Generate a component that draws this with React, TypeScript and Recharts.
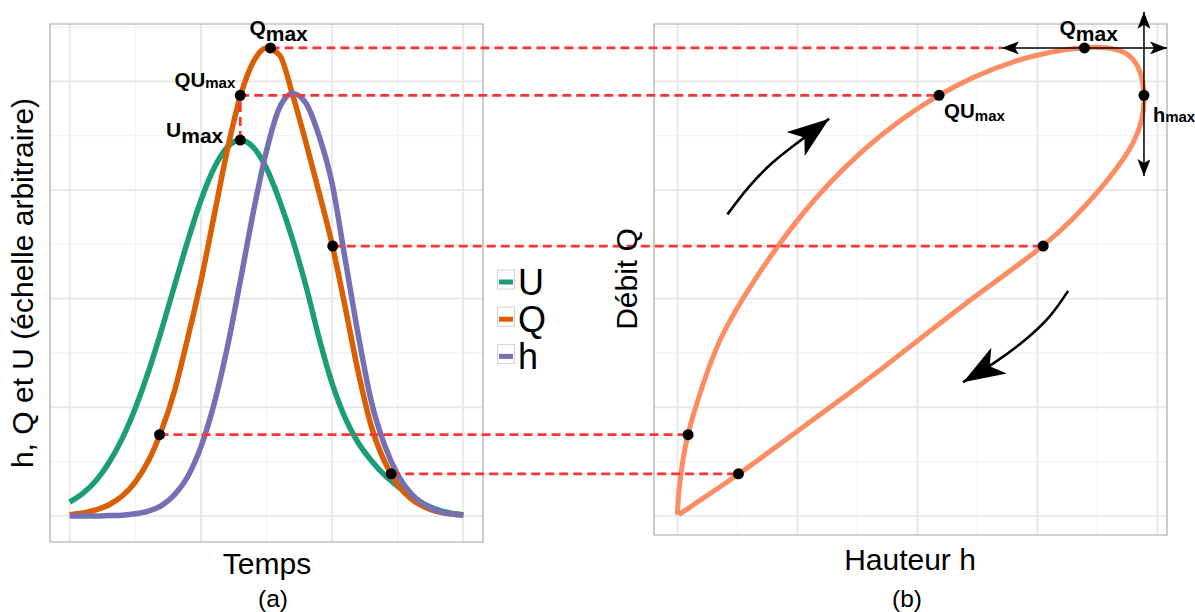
import { ComposedChart, Line, XAxis, YAxis } from 'recharts'

const FONT = '"Liberation Sans", Arial, Helvetica, sans-serif'
const W = 1195
const HT = 612

// hydrograph (a): time steps and the three curves
const TIME = [0, 1, 2, 3, 4, 5, 6, 7, 8, 9, 10, 11, 12, 13, 14, 15, 16, 17, 18, 19, 20, 21, 22, 23, 24, 25, 26, 27, 28, 29, 30]
const U_VALUES = [0.032, 0.052, 0.081, 0.123, 0.178, 0.248, 0.332, 0.428, 0.531, 0.633, 0.726, 0.8, 0.848, 0.865, 0.848, 0.8, 0.725, 0.635, 0.53, 0.41, 0.305, 0.225, 0.168, 0.127, 0.094, 0.068, 0.046, 0.028, 0.015, 0.007, 0.003]
const Q_VALUES = [0.003, 0.007, 0.014, 0.026, 0.046, 0.078, 0.127, 0.197, 0.289, 0.41, 0.54, 0.69, 0.84, 0.965, 1.045, 1.077, 1.06, 0.968, 0.86, 0.745, 0.625, 0.48, 0.33, 0.205, 0.125, 0.072, 0.04, 0.021, 0.01, 0.005, 0.002]
const H_VALUES = [0, 0, 0, 0.001, 0.002, 0.005, 0.011, 0.024, 0.049, 0.091, 0.159, 0.257, 0.386, 0.54, 0.7, 0.84, 0.94, 0.972, 0.95, 0.875, 0.765, 0.59, 0.415, 0.262, 0.163, 0.095, 0.052, 0.027, 0.012, 0.005, 0.002]

const SERIES = [
  { key: 'U', color: '#1B9E77' },
  { key: 'Q', color: '#D95F02' },
  { key: 'h', color: '#7570B3' },
]
const LOOP_COLOR = '#FC8D62'

// marked points, panel (a) in time units, panel (b) in height units
const DOTS_A = [
  { t: 15.3, y: 1.077 },
  { t: 13, y: 0.968 },
  { t: 13, y: 0.865 },
  { t: 6.85, y: 0.187 },
  { t: 20.05, y: 0.621 },
  { t: 24.5, y: 0.097 },
]
const DOTS_B = [
  { h: 0.848, y: 1.077 },
  { h: 0.545, y: 0.968 },
  { h: 0.972, y: 0.968 },
  { h: 0.022, y: 0.187 },
  { h: 0.762, y: 0.621 },
  { h: 0.127, y: 0.097 },
]
const LABELS_A = [
  { t: 15.3, y: 1.077, main: 'Q', sub: 'max' },
  { t: 13, y: 0.968, main: 'QU', sub: 'max' },
  { t: 13, y: 0.865, main: 'U', sub: 'max' },
]
const LABELS_B = [
  { h: 0.848, y: 1.077, main: 'Q', sub: 'max' },
  { h: 0.545, y: 0.968, main: 'QU', sub: 'max' },
  { h: 0.972, y: 0.968, main: 'h', sub: 'max' },
]

// annotation arrows in panel (b) units
const ARROW_UP_H = [0.104, 0.147, 0.197, 0.249, 0.316]
const ARROW_UP_Q = [0.694, 0.755, 0.812, 0.858, 0.914]
const ARROW_DOWN_H = [0.814, 0.776, 0.724, 0.662, 0.595]
const ARROW_DOWN_Q = [0.518, 0.46, 0.405, 0.354, 0.308]
const QMAX_ARROW_H = [0.676, 1.02]
const HMAX_ARROW_Q = [0.782, 1.16]

// grid ticks
const T_MAJOR = [0, 10, 20, 30]
const T_MINOR = [5, 15, 25]
const H_MAJOR = [0, 0.25, 0.5, 0.75, 1]
const H_MINOR = [0.125, 0.375, 0.625, 0.875]
const Q_MAJOR = [0, 0.25, 0.5, 0.75, 1]
const Q_MINOR = [0.125, 0.375, 0.625, 0.875, 1.125]

// layout: panel ranges and where they sit on the page
const T_RANGE = [-1.5, 31.5]
const H_RANGE = [-0.049, 1.02]
const Q_TOP = 1.132
const PANEL_A = { left: 50, right: 483, bottom: 542 }
const PANEL_B = { left: 654, right: 1167, bottom: 535 }
const Y_TOP = 24
const Y_ZERO = 516

function xDomain(lo: number, hi: number, pLo: number, pHi: number) {
  const k = (hi - lo) / (pHi - pLo)
  return [lo - pLo * k, lo + (W - pLo) * k]
}
const T_DOMAIN = xDomain(T_RANGE[0], T_RANGE[1], PANEL_A.left, PANEL_A.right)
const H_DOMAIN = xDomain(H_RANGE[0], H_RANGE[1], PANEL_B.left, PANEL_B.right)
const Q_PER_PX = Q_TOP / (Y_ZERO - Y_TOP)
const Q_DOMAIN = [-(HT - Y_ZERO) * Q_PER_PX, Y_ZERO * Q_PER_PX]
const qAtPx = (y: number) => (Y_ZERO - y) * Q_PER_PX
const Q_A = [qAtPx(PANEL_A.bottom), Q_TOP]
const Q_B = [qAtPx(PANEL_B.bottom), Q_TOP]
const hFromT = (t: number) =>
  H_DOMAIN[0] + ((t - T_DOMAIN[0]) / (T_DOMAIN[1] - T_DOMAIN[0])) * (H_DOMAIN[1] - H_DOMAIN[0])

const rows = TIME.map((t, i) => ({ t, U: U_VALUES[i], Q: Q_VALUES[i], h: H_VALUES[i] }))

function gridRows(k: string, xs: number[], ys: number[], xr: number[], yr: number[]) {
  const out: any[] = []
  for (const x of xs) out.push({ [k]: x, y: yr[0] }, { [k]: x, y: yr[1] }, { [k]: x, y: null })
  for (const y of ys) out.push({ [k]: xr[0], y }, { [k]: xr[1], y }, { [k]: xr[1], y: null })
  return out
}
function boxRows(k: string, xr: number[], yr: number[]) {
  return [
    { [k]: xr[0], y: yr[0] }, { [k]: xr[1], y: yr[0] }, { [k]: xr[1], y: yr[1] },
    { [k]: xr[0], y: yr[1] }, { [k]: xr[0], y: yr[0] },
  ]
}

const links: any[] = []
// vertical link Umax -> QUmax, then horizontal links from (a) to (b)
links.push({ h: hFromT(DOTS_A[2].t), y: DOTS_A[2].y }, { h: hFromT(DOTS_A[1].t), y: DOTS_A[1].y }, { h: 0, y: null })
links.push({ h: hFromT(DOTS_A[0].t), y: DOTS_A[0].y }, { h: QMAX_ARROW_H[0], y: DOTS_A[0].y }, { h: 0, y: null })
for (const i of [1, 3, 4, 5]) {
  links.push({ h: hFromT(DOTS_A[i].t), y: DOTS_A[i].y }, { h: DOTS_B[i].h, y: DOTS_B[i].y }, { h: 0, y: null })
}

const LABEL_STYLE_A = [
  { dx: -21, dy: -12.5, anchor: 'start', main: 21, sub: 21, subDy: 5.5 },
  { dx: -5, dy: -8.5, anchor: 'end', main: 20.5, sub: 15, subDy: 1.5 },
  { dx: -17, dy: -3.5, anchor: 'end', main: 21, sub: 21, subDy: 6 },
]
const LABEL_STYLE_B = [
  { dx: -25, dy: -12.5, anchor: 'start', main: 21, sub: 21, subDy: 5.5 },
  { dx: 5, dy: 22.5, anchor: 'start', main: 20.5, sub: 15, subDy: 3.5 },
  { dx: 9, dy: 26.5, anchor: 'start', main: 20, sub: 15, subDy: 0 },
]

function labelDot(styles: typeof LABEL_STYLE_A) {
  return (props: any) => {
    const { cx, cy, index, payload } = props
    const s = styles[index]
    return (
      <text key={`lbl-${index}`} x={cx + s.dx} y={cy + s.dy} textAnchor={s.anchor} fontFamily={FONT} fontWeight={700} fill="#000">
        <tspan fontSize={s.main}>{payload.main}</tspan>
        <tspan fontSize={s.sub} dy={s.subDy}>{payload.sub}</tspan>
      </text>
    )
  }
}

const MAJOR = '#E6E6E6'
const MINOR = '#F4F4F4'
const BORDER = '#A3A3A3'
const DASH = '#FF3333'

const base = { dot: false as const, activeDot: false as const, isAnimationActive: false, legendType: 'none' as const }

export default function App() {
  return (
    <div style={{ position: 'absolute', left: 0, top: 0, width: W, height: HT, background: '#fff' }}>
      <ComposedChart width={W} height={HT} margin={{ top: 0, right: 0, bottom: 0, left: 0 }}>
        <XAxis xAxisId="t" dataKey="t" type="number" domain={T_DOMAIN} allowDataOverflow hide />
        <XAxis xAxisId="h" dataKey="h" type="number" domain={H_DOMAIN} allowDataOverflow hide />
        <YAxis type="number" domain={Q_DOMAIN} allowDataOverflow hide />

        <Line {...base} xAxisId="t" data={gridRows('t', T_MINOR, Q_MINOR, T_RANGE, Q_A)} dataKey="y" type="linear" stroke={MINOR} strokeWidth={1.3} />
        <Line {...base} xAxisId="h" data={gridRows('h', H_MINOR, Q_MINOR, H_RANGE, Q_B)} dataKey="y" type="linear" stroke={MINOR} strokeWidth={1.3} />
        <Line {...base} xAxisId="t" data={gridRows('t', T_MAJOR, Q_MAJOR, T_RANGE, Q_A)} dataKey="y" type="linear" stroke={MAJOR} strokeWidth={1.7} />
        <Line {...base} xAxisId="h" data={gridRows('h', H_MAJOR, Q_MAJOR, H_RANGE, Q_B)} dataKey="y" type="linear" stroke={MAJOR} strokeWidth={1.7} />
        <Line {...base} xAxisId="t" data={boxRows('t', T_RANGE, Q_A)} dataKey="y" type="linear" stroke={BORDER} strokeWidth={1.1} />
        <Line {...base} xAxisId="h" data={boxRows('h', H_RANGE, Q_B)} dataKey="y" type="linear" stroke={BORDER} strokeWidth={1.1} />

        {SERIES.map((s) => (
          <Line key={s.key} {...base} xAxisId="t" data={rows} dataKey={s.key} type="monotone" stroke={s.color} strokeWidth={5.5} />
        ))}
        <Line {...base} xAxisId="h" data={rows} dataKey="Q" type="natural" stroke={LOOP_COLOR} strokeWidth={5} strokeLinejoin="round" />

        <Line {...base} xAxisId="h" data={links} dataKey="y" type="linear" stroke={DASH} strokeWidth={2.8} strokeDasharray="9 5" />

        <Line {...base} xAxisId="h" data={ARROW_UP_H.map((h, i) => ({ h, y: ARROW_UP_Q[i] }))} dataKey="y" type="natural" stroke="#000" strokeWidth={2.6} markerEnd="url(#arrowBig)" />
        <Line {...base} xAxisId="h" data={ARROW_DOWN_H.map((h, i) => ({ h, y: ARROW_DOWN_Q[i] }))} dataKey="y" type="natural" stroke="#000" strokeWidth={2.6} markerEnd="url(#arrowBig)" />
        <Line {...base} xAxisId="h" data={QMAX_ARROW_H.map((h) => ({ h, y: DOTS_B[0].y }))} dataKey="y" type="linear" stroke="#000" strokeWidth={1.5} markerStart="url(#arrowSmall)" markerEnd="url(#arrowSmall)" />
        <Line {...base} xAxisId="h" data={HMAX_ARROW_Q.map((y) => ({ h: DOTS_B[2].h, y }))} dataKey="y" type="linear" stroke="#000" strokeWidth={1.5} markerStart="url(#arrowSmall)" markerEnd="url(#arrowSmall)" />

        <Line {...base} xAxisId="t" data={DOTS_A} dataKey="y" stroke="none" dot={{ r: 5.5, fill: '#000', stroke: 'none' }} />
        <Line {...base} xAxisId="h" data={DOTS_B} dataKey="y" stroke="none" dot={{ r: 5.5, fill: '#000', stroke: 'none' }} />
        <Line {...base} xAxisId="t" data={LABELS_A} dataKey="y" stroke="none" dot={labelDot(LABEL_STYLE_A)} />
        <Line {...base} xAxisId="h" data={LABELS_B} dataKey="y" stroke="none" dot={labelDot(LABEL_STYLE_B)} />
      </ComposedChart>

      <svg width={W} height={HT} style={{ position: 'absolute', left: 0, top: 0, pointerEvents: 'none' }} fontFamily={FONT}>
        <defs>
          <marker id="arrowBig" viewBox="0 0 42 30" markerWidth={42} markerHeight={30} refX={42} refY={15} orient="auto" markerUnits="userSpaceOnUse">
            <path d="M0,0 L42,15 L0,30 L11,15 Z" fill="#000" />
          </marker>
          <marker id="arrowSmall" viewBox="0 0 17 13" markerWidth={17} markerHeight={13} refX={17} refY={6.5} orient="auto-start-reverse" markerUnits="userSpaceOnUse">
            <path d="M0,0 L17,6.5 L0,13 L4,6.5 Z" fill="#000" />
          </marker>
        </defs>

        <text x={33} y={283} fontSize={30} textAnchor="middle" transform="rotate(-90 33 283)">h, Q et U (échelle arbitraire)</text>
        <text x={267} y={574} fontSize={30} textAnchor="middle">Temps</text>
        <text x={273} y={607} fontSize={24.5} textAnchor="middle">(a)</text>
        <text x={637} y={279} fontSize={30} textAnchor="middle" transform="rotate(-90 637 279)">Débit Q</text>
        <text x={910} y={570} fontSize={30} textAnchor="middle">Hauteur h</text>
        <text x={907} y={607} fontSize={24.5} textAnchor="middle">(b)</text>

        {SERIES.map((s, i) => {
          const cy = 282 + i * 37.2
          return (
            <g key={s.key}>
              <rect x={497.5} y={cy - 12} width={17} height={19} fill="#fff" stroke="#D2D2D2" strokeWidth={1} />
              <line x1={499} x2={513} y1={cy} y2={cy} stroke={s.color} strokeWidth={5} />
              <text x={518} y={cy + 13} fontSize={36}>{s.key}</text>
            </g>
          )
        })}
      </svg>
    </div>
  )
}
